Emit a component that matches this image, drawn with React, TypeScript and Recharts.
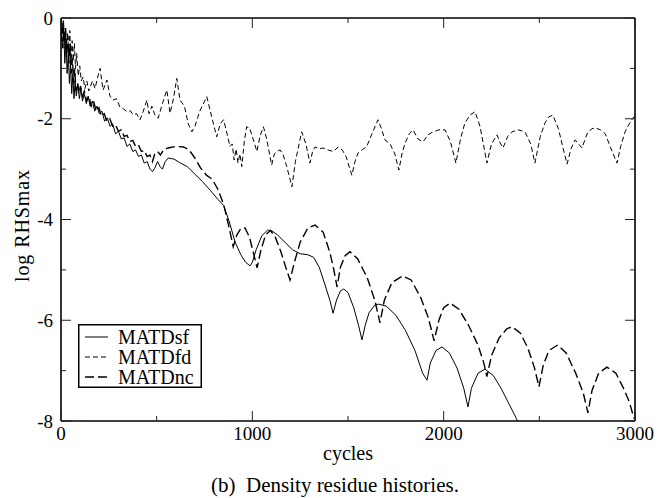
import { LineChart, Line, XAxis, YAxis, Legend } from "recharts";

// values: [cycle, log RHSmax]
const matdSf: [number, number][] = [
  [0, -0.1], [8, -0.6], [14, -0.2], [20, -0.9], [26, -0.4], [32, -1.1], [38, -0.7],
  [44, -1.3], [50, -0.9], [56, -1.5], [62, -1.1], [68, -1.6], [74, -1.25], [80, -1.55],
  [88, -1.3], [96, -1.6], [104, -1.4], [112, -1.65], [122, -1.5], [132, -1.7], [142, -1.55],
  [152, -1.75], [164, -1.65], [176, -1.85], [188, -1.75], [200, -1.9], [214, -1.85],
  [228, -2.05], [242, -1.98], [256, -2.15], [270, -2.1], [285, -2.3], [300, -2.25],
  [315, -2.4], [330, -2.38], [345, -2.55], [360, -2.5], [375, -2.65], [390, -2.62],
  [405, -2.75], [420, -2.72], [435, -2.88], [450, -2.85], [465, -3.0], [478, -3.05],
  [490, -2.98], [505, -2.85], [518, -2.95], [530, -3.0], [545, -2.85], [560, -2.78],
  [590, -2.8], [620, -2.87], [660, -2.95], [700, -3.1], [740, -3.25], [780, -3.42],
  [820, -3.6], [850, -3.72], [880, -4.05], [910, -4.45], [940, -4.7], [965, -4.85],
  [988, -4.92], [1000, -4.85], [1020, -4.6], [1050, -4.32], [1080, -4.21], [1100, -4.22],
  [1130, -4.3], [1170, -4.45], [1210, -4.6], [1250, -4.68], [1290, -4.7], [1320, -4.75],
  [1350, -4.95], [1380, -5.3], [1405, -5.6], [1422, -5.86], [1440, -5.6], [1460, -5.42],
  [1478, -5.38], [1500, -5.45], [1530, -5.75], [1555, -6.1], [1573, -6.39], [1590, -6.1],
  [1610, -5.85], [1640, -5.7], [1660, -5.68], [1700, -5.72], [1750, -5.9], [1800, -6.2],
  [1850, -6.6], [1890, -7.05], [1913, -7.19], [1930, -6.85], [1960, -6.6], [1991, -6.53],
  [2030, -6.65], [2070, -6.95], [2105, -7.35], [2127, -7.72], [2145, -7.35], [2180, -7.05],
  [2216, -6.97], [2260, -7.1], [2300, -7.35], [2340, -7.65], [2380, -7.95], [2420, -8.3],
];

const matdFd: [number, number][] = [
  [0, -0.05], [5, -0.5], [10, -0.1], [16, -0.6], [22, -0.2], [28, -0.8], [34, -0.3],
  [40, -0.7], [46, -0.25], [52, -0.9], [58, -0.45], [64, -0.85], [70, -0.5], [76, -1.0],
  [82, -0.7], [90, -1.15], [98, -0.95], [106, -1.25], [115, -1.17], [125, -1.4],
  [135, -1.25], [145, -1.45], [152, -1.37], [165, -1.25], [178, -1.4], [190, -1.2],
  [204, -1.0], [220, -1.43], [240, -1.23], [256, -1.55], [272, -1.63], [290, -1.6],
  [308, -1.77], [325, -1.8], [345, -1.86], [362, -1.84], [377, -1.92], [395, -1.9],
  [413, -2.02], [430, -1.85], [449, -1.63], [460, -1.9], [475, -1.75], [490, -1.92],
  [508, -1.99], [530, -1.7], [553, -1.43], [570, -1.89], [588, -1.6], [605, -1.2],
  [622, -1.63], [645, -1.75], [665, -2.1], [684, -2.26], [700, -2.15], [725, -1.85],
  [762, -1.56], [790, -2.0], [814, -2.36], [832, -2.1], [850, -2.02], [868, -2.3],
  [883, -2.55], [895, -2.5], [905, -2.82], [915, -2.6], [925, -2.88], [935, -2.7],
  [945, -2.95], [958, -2.45], [970, -2.16], [985, -2.18], [1000, -2.35], [1024, -2.65],
  [1040, -2.35], [1058, -2.16], [1075, -2.4], [1101, -2.92], [1115, -2.7], [1127, -2.65],
  [1145, -2.62], [1160, -2.7], [1180, -2.95], [1207, -3.35], [1225, -2.85], [1258, -2.26],
  [1280, -2.5], [1301, -2.88], [1315, -2.65], [1328, -2.56], [1350, -2.6], [1370, -2.58],
  [1395, -2.62], [1423, -2.65], [1449, -2.56], [1470, -2.62], [1490, -2.75], [1520, -3.12],
  [1540, -2.8], [1553, -2.68], [1580, -2.6], [1597, -2.56], [1625, -2.3], [1657, -2.02],
  [1675, -2.2], [1693, -2.42], [1720, -2.5], [1745, -2.7], [1766, -3.02], [1782, -2.7],
  [1798, -2.49], [1820, -2.3], [1840, -2.22], [1865, -2.4], [1892, -2.46], [1918, -2.32],
  [1944, -2.26], [1975, -2.22], [2007, -2.22], [2035, -2.45], [2064, -2.88], [2088, -2.4],
  [2111, -2.08], [2140, -1.92], [2164, -1.86], [2190, -2.15], [2226, -2.88], [2250, -2.5],
  [2279, -2.32], [2295, -2.48], [2310, -2.58], [2335, -2.35], [2357, -2.26], [2390, -2.22],
  [2425, -2.26], [2455, -2.5], [2477, -2.88], [2505, -2.35], [2530, -2.08], [2550, -1.96],
  [2571, -1.93], [2600, -2.2], [2625, -2.6], [2645, -2.9], [2665, -2.6], [2687, -2.42],
  [2705, -2.5], [2723, -2.58], [2740, -2.4], [2754, -2.26], [2775, -2.2], [2791, -2.18],
  [2820, -2.22], [2845, -2.3], [2870, -2.55], [2906, -2.88], [2925, -2.55], [2948, -2.26],
  [2970, -2.1], [2990, -1.98], [3000, -1.95],
];

const matdNc: [number, number][] = [
  [0, 0], [6, -0.3], [12, -0.05], [18, -0.5], [24, -0.2], [30, -0.7], [36, -0.35],
  [42, -0.9], [48, -0.5], [54, -1.1], [60, -0.8], [66, -1.3], [72, -1.0], [78, -1.45],
  [86, -1.3], [94, -1.5], [102, -1.35], [112, -1.55], [122, -1.45], [134, -1.65],
  [146, -1.55], [158, -1.75], [170, -1.65], [184, -1.85], [198, -1.78], [212, -1.95],
  [226, -1.9], [240, -2.05], [255, -2.0], [270, -2.15], [285, -2.12], [300, -2.25],
  [315, -2.22], [330, -2.35], [345, -2.33], [360, -2.45], [375, -2.43], [390, -2.55],
  [405, -2.52], [420, -2.65], [435, -2.63], [450, -2.75], [465, -2.72], [478, -2.85],
  [490, -2.7], [505, -2.65], [520, -2.72], [535, -2.62], [560, -2.58], [600, -2.55],
  [640, -2.56], [670, -2.62], [700, -2.78], [730, -2.98], [760, -3.12], [790, -3.2],
  [820, -3.4], [850, -3.7], [875, -4.1], [900, -4.54], [920, -4.3], [940, -4.18],
  [962, -4.17], [985, -4.35], [1005, -4.65], [1025, -4.96], [1045, -4.6], [1070, -4.3],
  [1095, -4.22], [1120, -4.35], [1150, -4.65], [1175, -4.95], [1197, -5.2], [1220, -4.85],
  [1250, -4.45], [1290, -4.17], [1328, -4.11], [1370, -4.25], [1405, -4.65], [1425, -4.98],
  [1443, -5.34], [1460, -4.95], [1485, -4.72], [1510, -4.64], [1550, -4.78], [1600, -5.15],
  [1640, -5.6], [1667, -6.05], [1690, -5.6], [1730, -5.25], [1785, -5.12], [1830, -5.2],
  [1880, -5.55], [1920, -5.95], [1950, -6.41], [1975, -6.0], [2000, -5.75], [2033, -5.66],
  [2080, -5.78], [2130, -6.1], [2180, -6.5], [2210, -6.85], [2226, -7.12], [2250, -6.7],
  [2290, -6.35], [2330, -6.17], [2357, -6.13], [2400, -6.25], [2440, -6.55], [2475, -6.95],
  [2498, -7.32], [2520, -6.9], [2550, -6.6], [2597, -6.49], [2640, -6.65], [2690, -7.05],
  [2730, -7.45], [2754, -7.84], [2775, -7.4], [2810, -7.05], [2853, -6.93], [2900, -7.05],
  [2940, -7.35], [2970, -7.62], [2995, -7.95],
];

const xTicks = [0, 500, 1000, 1500, 2000, 2500, 3000];
const yTicks = [-8, -7, -6, -5, -4, -3, -2, -1, 0];

const serif = "'Liberation Serif', 'Times New Roman', serif";

const toRows = (pts: [number, number][]) => pts.map(([c, v]) => ({ c, v }));

const series = [
  { name: "MATDsf", data: toRows(matdSf), dash: undefined, width: 1 },
  { name: "MATDfd", data: toRows(matdFd), dash: "5 3", width: 1 },
  { name: "MATDnc", data: toRows(matdNc), dash: "9 4", width: 1.4 },
];

// tick marks point into the plot; majors are longer and carry the labels
const BottomTick = ({ x, y, payload }: any) => {
  const major = payload.value % 1000 === 0;
  return (
    <g>
      <line x1={x} y1={y} x2={x} y2={y - (major ? 10 : 5)} stroke="#222" />
      {major && (
        <text x={x} y={y + 19} textAnchor="middle" fontSize={19} fontFamily={serif} fill="#000">
          {payload.value}
        </text>
      )}
    </g>
  );
};

const TopTick = ({ x, y, payload }: any) => {
  const major = payload.value % 1000 === 0;
  return <line x1={x} y1={y} x2={x} y2={y + (major ? 10 : 5)} stroke="#222" />;
};

const LeftTick = ({ x, y, payload }: any) => {
  const major = payload.value % 2 === 0;
  return (
    <g>
      <line x1={x} y1={y} x2={x + (major ? 10 : 5)} y2={y} stroke="#222" />
      {major && (
        <text x={x - 8} y={y + 6.5} textAnchor="end" fontSize={19} fontFamily={serif} fill="#000">
          {payload.value}
        </text>
      )}
    </g>
  );
};

const RightTick = ({ x, y, payload }: any) => {
  const major = payload.value % 2 === 0;
  return <line x1={x} y1={y} x2={x - (major ? 10 : 5)} y2={y} stroke="#222" />;
};

const LegendBox = () => (
  <svg width={124} height={64} style={{ display: "block" }}>
    <rect x={0.75} y={0.75} width={122.5} height={62.5} fill="#fff" stroke="#000" strokeWidth={1.5} />
    {series.map((s, i) => (
      <g key={s.name}>
        <line
          x1={7}
          x2={30}
          y1={13 + i * 20}
          y2={13 + i * 20}
          stroke="#000"
          strokeWidth={s.width}
          strokeDasharray={s.dash}
        />
        <text x={40} y={20 + i * 20} fontSize={20} fontFamily={serif} fill="#000">
          {s.name}
        </text>
      </g>
    ))}
  </svg>
);

export default function App() {
  return (
    <div style={{ position: "absolute", left: 0, top: 0, width: 670, height: 498, background: "#fff" }}>
      <LineChart width={670} height={498} margin={{ top: 17, right: 34, bottom: 76, left: 60 }}>
        <XAxis
          xAxisId="b"
          dataKey="c"
          type="number"
          domain={[0, 3000]}
          ticks={xTicks}
          interval={0}
          allowDataOverflow
          height={1}
          tickSize={0}
          tickMargin={0}
          tickLine={false}
          tick={<BottomTick />}
          axisLine={{ stroke: "#000", strokeWidth: 1.6 }}
        />
        <XAxis
          xAxisId="t"
          orientation="top"
          dataKey="c"
          type="number"
          domain={[0, 3000]}
          ticks={xTicks}
          interval={0}
          allowDataOverflow
          height={1}
          tickSize={0}
          tickMargin={0}
          tickLine={false}
          tick={<TopTick />}
          axisLine={{ stroke: "#000", strokeWidth: 1.6 }}
        />
        <YAxis
          yAxisId="l"
          type="number"
          domain={[-8, 0]}
          ticks={yTicks}
          interval={0}
          allowDataOverflow
          width={1}
          tickSize={0}
          tickMargin={0}
          tickLine={false}
          tick={<LeftTick />}
          axisLine={{ stroke: "#000", strokeWidth: 1.6 }}
        />
        <YAxis
          yAxisId="r"
          orientation="right"
          type="number"
          domain={[-8, 0]}
          ticks={yTicks}
          interval={0}
          allowDataOverflow
          width={1}
          tickSize={0}
          tickMargin={0}
          tickLine={false}
          tick={<RightTick />}
          axisLine={{ stroke: "#000", strokeWidth: 1.6 }}
        />
        {series.map((s) => (
          <Line
            key={s.name}
            xAxisId="b"
            yAxisId="l"
            data={s.data}
            dataKey="v"
            name={s.name}
            type="linear"
            dot={false}
            stroke="#000"
            strokeWidth={s.width}
            strokeDasharray={s.dash}
            isAnimationActive={false}
          />
        ))}
        <Legend
          layout="vertical"
          align="center"
          verticalAlign="middle"
          content={() => <LegendBox />}
          wrapperStyle={{ left: 78, top: 324, width: 124, height: 64 }}
        />
      </LineChart>
      <svg
        width={670}
        height={498}
        style={{ position: "absolute", left: 0, top: 0, pointerEvents: "none" }}
      >
        <text
          transform="translate(29, 226) rotate(-90)"
          textAnchor="middle"
          fontSize={20}
          fontFamily={serif}
          textLength={112}
          lengthAdjust="spacing"
        >
          log RHSmax
        </text>
        <text x={348} y={460} textAnchor="middle" fontSize={20} fontFamily={serif}>
          cycles
        </text>
        <text x={335} y={492} textAnchor="middle" fontSize={21} fontFamily={serif} xmlSpace="preserve">
          (b)  Density residue histories.
        </text>
      </svg>
    </div>
  );
}
